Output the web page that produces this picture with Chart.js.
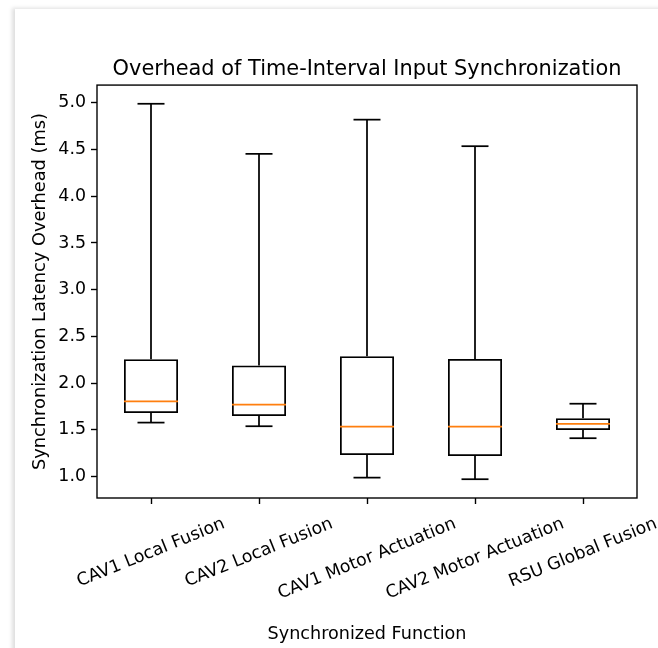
<!DOCTYPE html>
<html>
<head>
<meta charset="utf-8">
<script src="https://cdn.jsdelivr.net/npm/chart.js@4/dist/chart.umd.min.js"></script>
<style>
  html, body { margin: 0; padding: 0; background: #fff; }
  body { width: 658px; height: 648px; position: relative; overflow: hidden; }
  .card { position: absolute; left: 15px; top: 9px; width: 700px; height: 700px; background: #fff;
          box-shadow: -3px -1px 4px rgba(0,0,0,0.13); }
  #chart { position: absolute; left: 0; top: 0; }
</style>
</head>
<body>
<div class="card"></div>
<canvas id="chart" width="658" height="648"></canvas>
<script>
// box plot stats (ms)
const categories = ["CAV1 Local Fusion", "CAV2 Local Fusion", "CAV1 Motor Actuation", "CAV2 Motor Actuation", "RSU Global Fusion"];
const whiskerLow = [1.578, 1.539, 0.989, 0.972, 1.411];
const q1 = [1.680, 1.649, 1.230, 1.220, 1.500];
const medians = [1.805, 1.770, 1.535, 1.535, 1.564];
const q3 = [2.255, 2.188, 2.287, 2.259, 1.624];
const whiskerHigh = [4.990, 4.454, 4.820, 4.536, 1.780];
const yTicks = [1.0, 1.5, 2.0, 2.5, 3.0, 3.5, 4.0, 4.5, 5.0];

const FONT = "'DejaVu Sans', sans-serif";
const LW = 1.74;

// whiskers, caps and medians on top of the floating bars
const boxExtras = {
  id: "boxExtras",
  afterDatasetsDraw(chart) {
    const ctx = chart.ctx;
    const y = chart.scales.y;
    const meta = chart.getDatasetMeta(0);
    const line = (x1, y1, x2, y2) => {
      ctx.beginPath();
      ctx.moveTo(x1, y1);
      ctx.lineTo(x2, y2);
      ctx.stroke();
    };
    ctx.save();
    meta.data.forEach((bar, i) => {
      const x = bar.x;
      const half = bar.width / 2;
      const cap = half / 2;
      const yHi = y.getPixelForValue(whiskerHigh[i]);
      const yLo = y.getPixelForValue(whiskerLow[i]);
      ctx.strokeStyle = "#000";
      ctx.lineWidth = LW;
      line(x, y.getPixelForValue(q3[i]), x, yHi);
      line(x, y.getPixelForValue(q1[i]), x, yLo);
      line(x - cap, yHi, x + cap, yHi);
      line(x - cap, yLo, x + cap, yLo);
      const ym = y.getPixelForValue(medians[i]);
      ctx.strokeStyle = "#ff7f0e";
      line(x - half, ym, x + half, ym);
    });
    ctx.restore();
  },
  afterDraw(chart) {
    const {ctx, chartArea: a} = chart;
    ctx.save();
    ctx.strokeStyle = "#000";
    ctx.lineWidth = 1.39;
    ctx.strokeRect(a.left, a.top, a.right - a.left, a.bottom - a.top);

    // rotated category labels, centred under each tick like matplotlib
    const xs = chart.scales.x;
    const ang = 22 * Math.PI / 180;
    ctx.font = "17.4px " + FONT;
    ctx.fillStyle = "#000";
    ctx.textAlign = "center";
    ctx.textBaseline = "middle";
    categories.forEach((c, i) => {
      const px = xs.getPixelForTick(i);
      const w = ctx.measureText(c).width;
      const h = 20;
      const bh = w * Math.sin(ang) + h * Math.cos(ang);
      const top = a.bottom + 16;
      ctx.save();
      ctx.translate(px, top + bh / 2);
      ctx.rotate(-ang);
      ctx.fillText(c, 0, 0);
      ctx.restore();
    });
    ctx.restore();
  }
};

new Chart(document.getElementById("chart"), {
  type: "bar",
  data: {
    labels: categories,
    datasets: [{
      data: q1.map((v, i) => [v, q3[i]]),
      backgroundColor: "rgba(255,255,255,0)",
      borderColor: "#000",
      borderWidth: LW,
      borderSkipped: false,
      barPercentage: 0.5,
      categoryPercentage: 1.0
    }]
  },
  options: {
    responsive: false,
    animation: false,
    devicePixelRatio: 1,
    layout: { padding: { left: 0, right: 21, top: 0, bottom: 0 } },
    plugins: {
      legend: { display: false },
      tooltip: { enabled: false },
      title: {
        display: true,
        fullSize: false,
        text: "Overhead of Time-Interval Input Synchronization",
        color: "#000",
        font: { family: FONT, size: 20.9, weight: "normal", lineHeight: 1.2 },
        padding: { top: 57, bottom: 3 }
      }
    },
    scales: {
      x: {
        type: "category",
        offset: true,
        border: { display: false },
        grid: { offset: false, drawOnChartArea: false, drawTicks: true, tickLength: 6, tickColor: "#000", tickWidth: 1.39 },
        ticks: { display: false },
        title: {
          display: true,
          text: "Synchronized Function",
          color: "#000",
          font: { family: FONT, size: 17.6, lineHeight: 1.2 },
          padding: { top: 0, bottom: 3 }
        },
        afterFit(s) { s.height = 150; }
      },
      y: {
        min: 0.771,
        max: 5.19,
        border: { display: false },
        afterBuildTicks(s) { s.ticks = yTicks.map(v => ({ value: v })); },
        grid: { drawOnChartArea: false, drawTicks: true, tickLength: 6, tickColor: "#000", tickWidth: 1.39 },
        ticks: {
          color: "#000",
          padding: 5,
          font: { family: FONT, size: 17.4 },
          callback: v => Number(v).toFixed(1)
        },
        title: {
          display: true,
          text: "Synchronization Latency Overhead (ms)",
          color: "#000",
          font: { family: FONT, size: 17.8, lineHeight: 1.2 },
          padding: { top: 30, bottom: 0 }
        },
        afterFit(s) { s.width = 97; }
      }
    }
  },
  plugins: [boxExtras]
});
</script>
</body>
</html>
